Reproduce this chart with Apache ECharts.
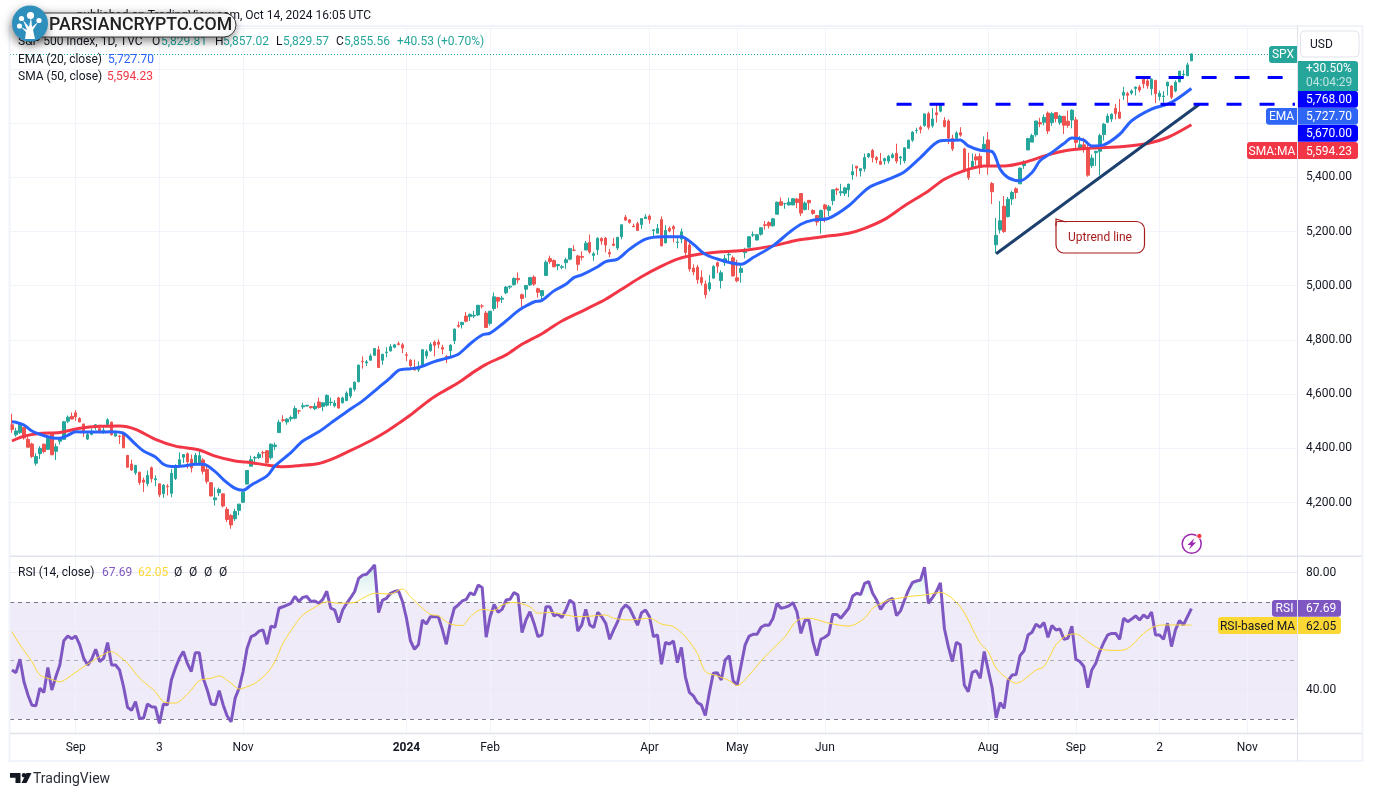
<!DOCTYPE html>
<html>
<head>
<meta charset="utf-8">
<title>SPX 1D</title>
<script src="https://cdn.jsdelivr.net/npm/echarts@6/dist/echarts.min.js"></script>
<style>
html, body { margin: 0; padding: 0; background: #fff; }
#chartMain { width: 1373px; height: 796px; }
</style>
</head>
<body>
<div id="chartMain"></div>
<script>
// one row per month, Aug 10 2023 - Oct 14 2024
var opens = [
	4487,4450,4458,4478,4433,4416,4345,4380,4415,4396,4455,4389,4426,4433,4500,4518,
	4531,4510,4490,4434,4451,4480,4473,4462,4488,4497,4445,4445,4452,4374,4342,4310,4312,4283,4270,4328,
	4284,4269,4233,4260,4234,4289,4339,4367,4380,4360,4342,4345,4357,4322,4273,4210,4236,4232,4175,4152,4140,4171,
	4201,4268,4334,4364,4366,4384,4391,4365,4406,4458,4505,4497,4509,4511,4538,4553,4556,4554,4546,4571,4554,
	4559,4569,4557,4586,4568,4576,4593,4618,4646,4721,4715,4725,4743,4764,4725,4753,4759,4773,4786,4782,
	4745,4725,4697,4690,4703,4741,4760,4792,4792,4772,4739,4760,4797,4853,4856,4888,4886,4888,4892,4925,4899,
	4861,4916,4957,4950,4974,4995,5004,5027,4967,4987,5003,5032,4989,4963,5038,5100,5093,5074,5068,5085,
	5098,5131,5110,5108,5132,5160,5112,5133,5174,5176,5123,5154,5139,5181,5253,5243,5220,5229,5226,5248,
	5257,5204,5194,5244,5158,5212,5218,5160,5172,5171,5150,5065,5068,5031,5006,4988,5028,5085,5019,5085,5114,5103,
	5029,5049,5122,5142,5187,5169,5190,5225,5233,5221,5264,5310,5303,5298,5298,5320,5340,5281,5315,5278,5259,5243,
	5298,5278,5314,5357,5343,5341,5354,5409,5441,5424,5432,5476,5499,5473,5459,5461,5460,5473,5488,
	5471,5461,5507,5537,5572,5584,5591,5635,5590,5638,5644,5610,5608,5543,5544,5565,5505,5428,5434,5476,5478,5505,
	5538,5377,5151,5206,5293,5255,5320,5358,5376,5443,5501,5530,5557,5602,5603,5637,5602,5639,5602,5625,5607,5612,
	5612,5506,5520,5507,5443,5491,5496,5558,5603,5615,5655,5641,5703,5709,5711,5728,5733,5762,5756,5727,
	5758,5698,5698,5737,5737,5719,5752,5778,5775,5829.81
];
var highs = [
	4527,4476,4490,4478,4449,4421,4382,4408,4418,4443,4458,4418,4440,4501,4521,4532,
	4541,4515,4490,4457,4473,4490,4487,4479,4511,4497,4466,4449,4462,4375,4358,4339,4313,4292,4318,4333,
	4300,4269,4268,4268,4324,4341,4385,4378,4385,4377,4383,4394,4364,4339,4276,4256,4255,4232,4184,4157,4177,4195,
	4246,4319,4373,4372,4386,4391,4393,4418,4421,4505,4522,4511,4521,4557,4542,4568,4560,4555,4568,4587,4570,
	4599,4587,4578,4590,4591,4610,4623,4647,4709,4739,4726,4749,4769,4778,4749,4773,4784,4785,4794,4789,
	4755,4729,4727,4721,4764,4765,4791,4798,4802,4782,4744,4783,4842,4868,4866,4903,4898,4907,4929,4932,4907,
	4906,4975,4958,4963,4999,5000,5031,5049,4971,5002,5032,5038,4993,4983,5094,5111,5097,5081,5077,5104,
	5140,5149,5114,5127,5165,5189,5125,5179,5179,5180,5136,5176,5180,5226,5261,5246,5229,5236,5249,5264,
	5263,5209,5228,5256,5223,5219,5224,5178,5211,5176,5168,5079,5077,5057,5019,5039,5076,5089,5057,5114,5123,5111,
	5096,5074,5140,5181,5200,5191,5215,5239,5238,5250,5311,5325,5306,5325,5324,5323,5342,5311,5315,5282,5260,5281,
	5302,5298,5354,5362,5376,5365,5376,5448,5441,5432,5488,5490,5505,5478,5490,5472,5483,5490,5524,
	5479,5510,5539,5570,5583,5591,5635,5642,5655,5667,5669,5622,5614,5557,5570,5585,5509,5491,5488,5487,5489,5551,
	5567,5383,5250,5312,5331,5328,5351,5363,5436,5463,5546,5561,5608,5620,5632,5643,5642,5639,5631,5627,5646,5651,
	5623,5552,5546,5523,5484,5498,5561,5601,5636,5636,5671,5689,5734,5716,5725,5735,5741,5767,5765,5765,
	5758,5720,5718,5753,5740,5758,5792,5795,5823,5857.02
];
var lows = [
	4457,4443,4453,4432,4403,4364,4336,4360,4382,4396,4375,4357,4414,4431,4493,4507,
	4501,4497,4442,4431,4448,4468,4456,4453,4479,4447,4442,4416,4401,4329,4316,4302,4265,4239,4260,4274,
	4260,4220,4217,4226,4219,4283,4339,4346,4325,4311,4342,4339,4304,4269,4223,4189,4224,4182,4128,4103,4132,4153,
	4198,4268,4334,4347,4360,4365,4344,4358,4393,4458,4496,4487,4499,4507,4526,4545,4554,4546,4541,4547,4537,
	4554,4557,4551,4546,4565,4574,4585,4610,4643,4694,4704,4725,4743,4697,4708,4736,4758,4769,4780,4751,
	4722,4699,4688,4682,4699,4730,4756,4739,4769,4747,4714,4740,4785,4845,4842,4865,4870,4881,4888,4916,4845,
	4853,4907,4918,4936,4969,4988,5000,5008,4920,4956,4999,4999,4956,4946,5038,5081,5068,5057,5061,5062,
	5094,5127,5056,5093,5131,5118,5092,5114,5151,5123,5105,5146,5131,5171,5241,5229,5216,5203,5209,5246,
	5229,5184,5194,5146,5157,5197,5160,5138,5157,5107,5052,5039,5007,5001,4953,4979,5028,5047,4990,5073,5088,5035,
	5013,5011,5101,5142,5180,5166,5185,5207,5211,5218,5264,5296,5284,5297,5298,5286,5257,5278,5279,5262,5222,5192,
	5234,5257,5297,5335,5331,5331,5327,5391,5403,5403,5421,5471,5455,5452,5447,5447,5451,5470,5451,
	5446,5452,5507,5531,5562,5562,5587,5576,5583,5602,5640,5584,5523,5497,5540,5550,5419,5390,5431,5444,5412,5494,
	5410,5302,5119,5193,5195,5252,5298,5321,5376,5431,5501,5530,5550,5585,5592,5560,5590,5603,5594,5560,5583,5581,
	5504,5503,5491,5402,5435,5442,5407,5536,5602,5604,5614,5615,5686,5674,5704,5702,5714,5729,5727,5703,
	5674,5683,5675,5702,5689,5714,5751,5765,5775,5829.57
];
var closes = [
	4469,4464,4490,4438,4404,4370,4370,4400,4388,4436,4376,4406,4433,4498,4515,4508,
	4516,4497,4465,4451,4457,4487,4462,4467,4505,4450,4454,4444,4402,4330,4320,4337,4274,4275,4300,4288,
	4288,4229,4264,4258,4308,4336,4358,4377,4350,4328,4374,4373,4315,4278,4224,4217,4248,4187,4137,4117,4167,4194,
	4238,4318,4358,4366,4378,4383,4347,4415,4412,4496,4503,4508,4514,4547,4538,4557,4559,4550,4555,4551,4568,
	4595,4570,4567,4549,4586,4604,4622,4644,4707,4720,4719,4741,4768,4698,4747,4755,4775,4782,4783,4770,
	4743,4705,4689,4697,4764,4757,4783,4780,4784,4766,4739,4781,4840,4850,4865,4869,4894,4891,4928,4925,4846,
	4906,4959,4943,4954,4995,4998,5027,5022,4953,5001,5030,5006,4976,4982,5087,5089,5070,5078,5070,5096,
	5137,5131,5079,5105,5157,5124,5118,5175,5165,5150,5117,5149,5179,5225,5242,5234,5218,5204,5248,5254,
	5244,5206,5211,5147,5204,5202,5210,5161,5199,5123,5062,5051,5022,5011,4967,5011,5071,5072,5048,5100,5116,5036,
	5018,5064,5128,5181,5188,5188,5214,5223,5221,5247,5308,5297,5303,5308,5321,5307,5268,5305,5306,5267,5235,5278,
	5283,5291,5354,5353,5347,5361,5375,5421,5434,5432,5473,5487,5473,5465,5448,5469,5478,5483,5460,
	5475,5509,5537,5567,5573,5577,5634,5585,5615,5631,5667,5588,5545,5505,5564,5556,5427,5399,5459,5464,5436,5522,
	5447,5347,5186,5240,5200,5319,5344,5344,5434,5455,5543,5554,5608,5597,5621,5571,5635,5617,5626,5592,5592,5648,
	5529,5520,5503,5408,5471,5496,5554,5596,5626,5633,5635,5618,5714,5703,5719,5733,5722,5745,5738,5762,
	5709,5710,5700,5751,5696,5751,5792,5780,5815,5855.56
];

// moving averages as [session, value]
var ema20 = [
	[0,4498],[1,4496],[3,4486],[5,4464],[7,4452],[10,4439],[12,4437],[14,4448],[16,4461],[19,4460],[22,4460],[25,4461],[28,4455],
	[31,4415],[33,4390],[36,4368],[38,4341],[40,4333],[43,4335],[46,4341],[48,4341],[51,4314],[53,4285],[56,4252],[58,4245],[60,4264],
	[64,4298],[66,4335],[70,4384],[73,4427],[77,4461],[80,4493],[84,4535],[88,4575],[92,4624],[95,4661],[97,4688],[100,4694],[102,4698],[106,4720],
	[109,4732],[112,4747],[115,4786],[118,4818],[120,4825],[123,4858],[127,4907],[128,4917],[131,4940],[133,4946],[136,4981],[139,5005],
	[141,5030],[143,5040],[147,5070],[149,5089],[152,5098],[155,5135],[159,5172],[163,5181],[168,5181],[171,5153],[174,5116],[178,5094],
	[183,5079],[186,5104],[191,5147],[195,5196],[198,5227],[201,5242],[205,5249],[210,5295],[215,5362],[220,5393],[224,5421],[228,5473],
	[233,5535],[236,5537],[238,5538],[240,5516],[243,5500],[246,5495],[248,5430],[250,5399],[253,5387],[256,5418],[258,5461],[261,5492],
	[264,5525],[266,5545],[269,5537],[271,5516],[274,5520],[278,5559],[281,5609],[286,5652],[290,5670],[292,5685],[296,5727.7]
];
var sma50 = [
	[0,4427],[3,4445],[7,4455],[12,4458],[17,4474],[22,4481],[27,4482],[31,4470],[36,4433],[41,4408],[47,4394],[51,4371],[56,4353],[60,4347],
	[64,4338],[68,4332],[72,4336],[77,4344],[80,4358],[84,4385],[90,4428],[94,4462],[97,4492],[100,4523],[105,4580],[108,4608],[112,4642],
	[116,4683],[119,4710],[124,4745],[128,4784],[133,4823],[138,4870],[144,4913],[149,4950],[153,4987],[158,5033],[163,5072],[167,5098],
	[172,5115],[178,5125],[184,5131],[191,5147],[197,5168],[203,5180],[210,5194],[214,5212],[219,5245],[224,5295],[230,5350],[234,5393],[239,5425],
	[244,5442],[249,5442],[254,5455],[260,5483],[265,5500],[271,5508],[279,5514],[285,5525],[290,5547],[296,5594.23]
];

var rsi14 = [
	46.7,45.8,50.4,42.7,38.2,34.7,34.5,40.5,39.0,47.6,
	39.9,44.4,48.4,56.7,58.3,57.4,58.3,55.3,50.7,48.4,
	50.4,53.8,49.6,50.7,56.1,48.4,48.4,46.7,41.0,34.0,
	32.9,35.9,30.2,30.2,35.1,34.2,34.0,28.5,35.1,34.8,
	43.3,47.3,50.7,53.0,49.0,46.2,52.6,52.6,43.9,39.9,
	35.1,34.8,39.7,34.8,31.0,29.0,37.1,40.5,46.2,54.1,
	58.1,58.7,60.0,60.4,55.5,61.7,61.3,67.8,68.3,68.9,
	69.5,71.8,70.1,71.5,71.8,70.1,70.3,69.5,70.8,73.6,
	67.8,67.2,62.9,67.2,69.5,71.4,73.5,78.0,79.1,79.4,
	80.9,82.6,66.3,70.6,71.2,72.9,73.5,73.8,70.1,64.4,
	56.7,53.8,55.3,63.8,62.4,64.9,64.9,64.9,60.6,55.5,
	62.7,67.8,68.9,70.3,70.8,73.1,72.3,75.7,74.9,57.9,
	64.9,69.1,66.4,67.4,70.6,70.9,73.2,72.3,59.5,63.8,
	66.6,62.7,58.1,58.7,68.3,68.3,65.2,65.8,64.6,67.2,
	70.6,69.5,60.0,62.1,67.4,62.1,61.2,66.4,64.9,62.7,
	57.2,60.4,63.2,67.4,68.9,67.8,64.9,62.0,66.3,67.2,
	64.9,58.1,58.7,48.7,56.1,55.6,56.6,49.2,54.4,44.4,
	39.1,37.9,35.6,34.8,31.2,38.8,45.6,45.8,43.3,50.1,
	51.6,43.0,41.6,48.4,55.3,58.3,58.9,58.9,61.3,62.1,
	62.0,64.4,69.5,67.8,68.1,68.6,69.7,66.6,59.2,63.6,
	63.8,56.4,51.6,57.2,57.9,58.9,65.7,65.7,64.4,66.1,
	67.8,72.0,72.9,72.5,76.3,76.9,72.9,70.6,67.4,69.5,
	70.6,71.2,65.3,66.9,70.6,74.0,76.6,77.1,77.4,81.8,
	69.5,71.4,73.5,76.5,60.9,54.7,49.6,56.2,55.3,41.6,
	39.3,45.9,46.5,43.9,53.0,46.7,40.5,30.4,35.6,33.6,
	43.1,45.0,45.2,51.6,53.3,58.7,59.6,62.4,61.3,62.9,
	57.9,61.9,60.4,60.7,57.2,57.5,61.7,50.4,49.6,47.9,
	40.7,46.7,49.0,53.0,56.1,58.7,59.2,59.2,57.2,64.4,
	63.2,64.1,65.2,63.8,65.5,64.4,66.5,58.7,58.7,57.2,
	62.7,54.7,60.4,63.6,62.1,64.9,67.69
];
var rsiMa = [
	[0,59.8],[2,55.3],[5,49.6],[7,45.0],[10,43.5],[12,42.7],[15,45.0],[17,46.9],[20,49.6],[22,51.3],[25,53.0],[26,52.4],[29,49.0],[32,43.9],
	[36,39.3],[38,35.9],[41,35.4],[43,37.1],[45,39.9],[47,43.1],[50,43.9],[52,44.7],[55,42.2],[57,40.2],[59,41.0],[61,42.2],[64,45.6],[66,49.6],
	[68,55.8],[71,62.1],[73,65.5],[76,68.1],[79,70.0],[82,69.5],[86,69.8],[88,71.2],[91,72.9],[95,72.7],[98,74.4],[100,71.7],[103,67.8],[105,65.7],
	[107,65.2],[110,62.4],[113,61.9],[115,64.9],[118,67.4],[121,67.0],[123,68.9],[126,69.8],[130,68.3],[132,66.1],[135,66.4],[139,65.5],[142,64.9],
	[146,65.2],[149,65.5],[151,64.4],[155,63.8],[160,64.4],[163,62.4],[166,61.5],[169,58.1],[172,52.4],[174,46.2],[177,44.7],[180,43.1],[182,41.4],
	[185,45.0],[189,51.3],[194,58.1],[197,63.6],[200,64.4],[205,62.7],[210,61.7],[214,64.4],[216,67.8],[220,70.6],[221,70.8],[225,71.8],[229,72.3],
	[233,73.2],[238,68.3],[243,55.8],[245,53.0],[247,47.3],[250,43.6],[252,42.2],[257,46.7],[259,47.9],[262,55.3],[265,58.7],[267,59.0],[270,56.4],
	[273,53.9],[277,53.4],[280,54.0],[284,59.2],[287,61.7],[290,62.1],[296,62.05]
];

// time axis: session index and its label, 26 empty sessions after the last bar
var sessionCount = 323;
var tickSessions = [16, 37, 58, 99, 120, 160, 182, 204, 245, 267, 288, 310];
var tickLabels = ["Sep", "3", "Nov", "2024", "Feb", "Apr", "May", "Jun", "Aug", "Sep", "2", "Nov"];

var priceTicks = [4200, 4400, 4600, 4800, 5000, 5200, 5400];
var rsiTicks = [80, 60, 40];
var rsiBands = [70, 50, 30];
var resistanceUpper = { level: 5768, from: 282, to: 319 };
var resistanceLower = { level: 5670, from: 222, to: 322 };
var trendLine = [[247, 5118], [298, 5670]];
var lastClose = 5855.56;

var FONT = "Roboto, sans-serif";
var TEXT = "#131722";
var UP = "#26a69a";
var DOWN = "#ef5350";
var EMA_COLOR = "#2962ff";
var SMA_COLOR = "#f23645";
var RSI_COLOR = "#7e57c2";
var MA_COLOR = "#fdd835";
var GRID_COLOR = "#f0f3fa";
var BORDER = "#e0e3eb";

var categories = [];
for(var i = 0; i < sessionCount; i++) {
	var t = tickSessions.indexOf(i);
	categories.push(t > -1 ? tickLabels[t] : "s" + i);
}

var candles = [];
for(var i = 0; i < closes.length; i++) {
	candles.push([opens[i], closes[i], lows[i], highs[i]]);
}

var vertLines = [];
for(var i = 0; i < tickSessions.length; i++) {
	vertLines.push({ xAxis: tickSessions[i] });
}

function plainLine(name, xi, yi, data, color, width, dash, smooth, z) {
	return {
		name: name,
		type: "line",
		xAxisIndex: xi,
		yAxisIndex: yi,
		data: data,
		symbol: "none",
		smooth: smooth,
		z: z,
		silent: true,
		lineStyle: { color: color, width: width, type: dash, cap: "butt" }
	};
}

// helpers for the labels around the panes
function box(x, y, w, h, fill, r) {
	return { type: "rect", z: 50, silent: true, shape: { x: x, y: y, width: w, height: h, r: r || 0 }, style: { fill: fill } };
}
function label(x, y, str, color, font, align) {
	return {
		type: "text", z: 51, silent: true, x: x, y: y,
		style: { text: str, fill: color, font: font || "12px " + FONT, textAlign: align || "left", textVerticalAlign: "middle" }
	};
}
function sideTag(y, h, name, nameLeft, value, fill, fg, boxRight) {
	var out = [];
	if(name) {
		out.push(box(nameLeft, y, 1297 - nameLeft, h, fill, [3, 0, 0, 3]));
		out.push(label((nameLeft + 1297) / 2, y + h / 2 + 1, name, fg, null, "center"));
	}
	out.push(box(1298, y, boxRight - 1298, h, fill, [0, 3, 3, 0]));
	out.push(label(1306, y + h / 2 + 1, value, fg));
	return out;
}

var elements = [];

// outer frame and pane separators
elements.push({ type: "rect", z: 40, silent: true, shape: { x: 9.5, y: 26, width: 1353, height: 735 }, style: { fill: "none", stroke: GRID_COLOR, lineWidth: 2 } });
elements.push({ type: "line", z: 40, silent: true, shape: { x1: 10, y1: 556.2, x2: 1362, y2: 556.2 }, style: { stroke: BORDER, lineWidth: 1.5 } });
elements.push({ type: "line", z: 40, silent: true, shape: { x1: 10, y1: 733.5, x2: 1362, y2: 733.5 }, style: { stroke: BORDER, lineWidth: 1.5 } });
elements.push({ type: "line", z: 40, silent: true, shape: { x1: 1297.5, y1: 26, x2: 1297.5, y2: 761 }, style: { stroke: BORDER, lineWidth: 1 } });

// legend rows
elements.push(label(371, 16, "published on TradingView.com, Oct 14, 2024 16:05 UTC", TEXT, null, "right"));
elements.push(label(18, 42, "S&P 500 Index, 1D, TVC", TEXT));
elements.push(label(152, 42, "O", TEXT));
elements.push(label(161, 42, "5,829.81", UP));
elements.push(label(215, 42, "H", TEXT));
elements.push(label(223, 42, "5,857.02", UP));
elements.push(label(276, 42, "L", TEXT));
elements.push(label(283, 42, "5,829.57", UP));
elements.push(label(336, 42, "C", TEXT));
elements.push(label(344, 42, "5,855.56", UP));
elements.push(label(397, 42, "+40.53 (+0.70%)", UP));
elements.push(label(18, 60, "EMA (20, close)", TEXT));
elements.push(label(108, 60, "5,727.70", EMA_COLOR));
elements.push(label(18, 77, "SMA (50, close)", TEXT));
elements.push(label(107, 77, "5,594.23", SMA_COLOR));
elements.push(label(18, 573, "RSI (14, close)", TEXT));
elements.push(label(102, 573, "67.69", RSI_COLOR));
elements.push(label(138, 573, "62.05", MA_COLOR));
elements.push(label(174, 573, "\u00D8", TEXT));
elements.push(label(189, 573, "\u00D8", TEXT));
elements.push(label(204, 573, "\u00D8", TEXT));
elements.push(label(219, 573, "\u00D8", TEXT));

// price scale tags
elements.push({ type: "rect", z: 50, silent: true, shape: { x: 1300.5, y: 31, width: 58.5, height: 26, r: 4 }, style: { fill: "#fff", stroke: BORDER, lineWidth: 1 } });
elements.push(label(1310, 45, "USD", TEXT));
elements.push(box(1269, 46, 28, 17, UP, [3, 0, 0, 3]));
elements.push(label(1283, 55, "SPX", "#fff", null, "center"));
elements.push(box(1298, 61, 60, 30, UP, [0, 3, 0, 0]));
elements.push(label(1306, 68.5, "+30.50%", "#fff"));
elements.push(label(1306, 82.5, "04:04:29", "rgba(255,255,255,0.7)"));
elements = elements.concat(sideTag(91, 16.7, null, 0, "5,768.00", "#0000ff", "#fff", 1358));
elements = elements.concat(sideTag(108, 16.7, "EMA", 1266, "5,727.70", "#2f66f6", "#fff", 1358));
elements = elements.concat(sideTag(125, 16.7, null, 0, "5,670.00", "#0000ff", "#fff", 1358));
elements = elements.concat(sideTag(142, 17, "SMA:MA", 1247, "5,594.23", SMA_COLOR, "#fff", 1358));
elements = elements.concat(sideTag(600, 16.7, "RSI", 1272, "67.69", RSI_COLOR, "#fff", 1341));
elements = elements.concat(sideTag(617, 17, "RSI-based MA", 1218, "62.05", MA_COLOR, TEXT, 1341));

// callout
elements.push({ type: "rect", z: 30, silent: true, shape: { x: 1056, y: 221.5, width: 88.5, height: 31.5, r: [2, 8, 8, 8] }, style: { fill: "#fff", stroke: "#a61c1c", lineWidth: 1.2 } });
elements.push({ type: "polyline", z: 31, silent: true, shape: { points: [[1056, 226], [1056, 219], [1066, 222]] }, style: { fill: "none", stroke: "#a61c1c", lineWidth: 1.2 } });
elements.push(label(1100, 238, "Uptrend line", "#a61c1c", null, "center"));

// flash icon above the separator
elements.push({ type: "circle", z: 30, silent: true, shape: { cx: 1191.7, cy: 543.7, r: 9.5 }, style: { fill: "#fff", stroke: "#9c27b0", lineWidth: 1.5 } });
elements.push({ type: "polygon", z: 31, silent: true, shape: { points: [[1194.5, 538], [1187.5, 545], [1191, 545], [1189, 549.5], [1196, 542.5], [1192.5, 542.5]] }, style: { fill: "#9c27b0" } });
elements.push({ type: "circle", z: 32, silent: true, shape: { cx: 1199.3, cy: 536, r: 2.6 }, style: { fill: "#f23645", stroke: "#fff", lineWidth: 0.8 } });

// site badge over the top left corner
elements.push({ type: "rect", z: 60, silent: true, shape: { x: 30, y: 13, width: 206, height: 24, r: 12 }, style: { fill: "#fff", stroke: "#3a3a3a", lineWidth: 1, shadowBlur: 10, shadowColor: "rgba(0,0,0,0.5)", shadowOffsetX: -2, shadowOffsetY: 3 } });
elements.push({ type: "circle", z: 61, silent: true, shape: { cx: 30, cy: 23.5, r: 18 }, style: { fill: "#2e8fbd", shadowBlur: 10, shadowColor: "rgba(0,0,0,0.5)", shadowOffsetX: -1, shadowOffsetY: 4 } });
elements.push({ type: "polygon", z: 62, silent: true, shape: { points: [[25, 39], [35, 39], [33, 30], [38, 22], [32, 27], [31, 17], [29, 27], [23, 20], [27, 30], [21, 27], [26, 32]] }, style: { fill: "#fff" } });
elements.push({ type: "circle", z: 62, silent: true, shape: { cx: 30.5, cy: 15.5, r: 3.6 }, style: { fill: "#fff" } });
elements.push({ type: "circle", z: 62, silent: true, shape: { cx: 21.5, cy: 18.5, r: 2.6 }, style: { fill: "#fff" } });
elements.push({ type: "circle", z: 62, silent: true, shape: { cx: 19.5, cy: 26, r: 2.6 }, style: { fill: "#fff" } });
elements.push({ type: "circle", z: 62, silent: true, shape: { cx: 39, cy: 20.5, r: 2.6 }, style: { fill: "#fff" } });
elements.push(label(49, 25.5, "PARSIANCRYPTO.COM", "#222", "500 17.7px " + FONT));
elements[elements.length - 1].z = 63;

// footer mark
elements.push({ type: "polygon", z: 30, silent: true, shape: { points: [[10, 773], [20.5, 773], [20.5, 783], [15.5, 783], [15.5, 777.8], [10, 777.8]] }, style: { fill: TEXT } });
elements.push({ type: "polygon", z: 30, silent: true, shape: { points: [[26.5, 773], [31.5, 773], [26.5, 783], [21.5, 783]] }, style: { fill: TEXT } });
elements.push({ type: "circle", z: 30, silent: true, shape: { cx: 24, cy: 775.3, r: 2.2 }, style: { fill: TEXT } });
elements.push(label(33, 779, "TradingView", "#2a2e39", "14px " + FONT));

var mainSeries = [];
// grid layer goes first so the marks stay on top of it
mainSeries.push({
	type: "line", data: [], xAxisIndex: 0, yAxisIndex: 0, z: 1, silent: true,
	markLine: { z: 1, silent: true, symbol: "none", label: { show: false }, animation: false, lineStyle: { color: GRID_COLOR, width: 1, type: "solid" }, data: vertLines }
});
mainSeries.push({
	type: "candlestick", name: "SPX", xAxisIndex: 0, yAxisIndex: 0, data: candles, barWidth: 3, silent: true,
	itemStyle: { color: UP, color0: DOWN, borderColor: UP, borderColor0: DOWN, borderWidth: 1 },
	markLine: {
		silent: true, symbol: "none", label: { show: false }, animation: false,
		data: [{ yAxis: lastClose, lineStyle: { color: "#1fa899", width: 1, type: [1, 2], opacity: 1 } }]
	}
});
mainSeries.push(plainLine("SMA", 0, 0, sma50, SMA_COLOR, 3, "solid", 0.3, 5));
mainSeries.push(plainLine("EMA", 0, 0, ema20, EMA_COLOR, 3, "solid", 0.3, 6));
mainSeries.push(plainLine("trend", 0, 0, trendLine, "#1c3f6e", 3, "solid", false, 7));
mainSeries.push(plainLine("r1", 0, 0, [[resistanceUpper.from, resistanceUpper.level], [resistanceUpper.to, resistanceUpper.level]], "#0000ff", 3, [15, 18], false, 8));
mainSeries.push(plainLine("r2", 0, 0, [[resistanceLower.from, resistanceLower.level], [resistanceLower.to, resistanceLower.level]], "#0000ff", 3, [15, 18], false, 8));

var rsiLines = [];
for(var i = 0; i < tickSessions.length; i++) {
	rsiLines.push({ xAxis: tickSessions[i], lineStyle: { color: GRID_COLOR, width: 1, type: "solid" } });
}
for(var i = 0; i < rsiTicks.length; i++) {
	rsiLines.push({ yAxis: rsiTicks[i], lineStyle: { color: "#ece8f5", width: 1, type: "solid" } });
}
for(var i = 0; i < rsiBands.length; i++) {
	rsiLines.push({ yAxis: rsiBands[i], lineStyle: { color: i == 1 ? "rgba(120,123,134,0.55)" : "#787b86", width: 1, type: [4, 4] } });
}

var rsiSeries = [];
rsiSeries.push({
	type: "line", data: [], xAxisIndex: 1, yAxisIndex: 1, z: 1, silent: true,
	markArea: { silent: true, animation: false, itemStyle: { color: "rgba(126,87,194,0.12)" }, data: [[{ yAxis: rsiBands[2] }, { yAxis: rsiBands[0] }]] },
	markLine: { z: 2, silent: true, symbol: "none", label: { show: false }, animation: false, data: rsiLines }
});
var rsiOver = [];
for(var i = 0; i < rsi14.length; i++) {
	rsiOver.push(rsi14[i] > rsiBands[0] ? rsi14[i] : rsiBands[0]);
}
rsiSeries.push({
	type: "line", name: "over", xAxisIndex: 1, yAxisIndex: 1, data: rsiOver, symbol: "none", silent: true, z: 3,
	lineStyle: { width: 0 },
	areaStyle: {
		origin: rsiBands[0],
		color: new echarts.graphic.LinearGradient(0, 0, 0, 1, [{ offset: 0, color: "rgba(38,166,154,0.3)" }, { offset: 1, color: "rgba(38,166,154,0)" }])
	}
});
rsiSeries.push(plainLine("RSI", 1, 1, rsi14, RSI_COLOR, 3, "solid", false, 4));
rsiSeries.push(plainLine("RSI MA", 1, 1, rsiMa, MA_COLOR, 1, "solid", 0.3, 5));

var myChart = echarts.init(document.getElementById("chartMain"), null, { renderer: "canvas" });
var option = {
	animation: false,
	backgroundColor: "#fff",
	textStyle: { fontFamily: FONT },
	grid: [
		{ left: 10, right: 76, top: 28.3, height: 528.4 },
		{ left: 10, right: 76, top: 556.7, height: 176.3 }
	],
	xAxis: [
		{
			type: "category", gridIndex: 0, data: categories, boundaryGap: true,
			axisLine: { show: false }, axisTick: { show: false }, axisLabel: { show: false }, splitLine: { show: false }
		},
		{
			type: "category", gridIndex: 1, data: categories, boundaryGap: true,
			axisLine: { show: false }, axisTick: { show: false }, splitLine: { show: false },
			axisLabel: {
				color: TEXT, fontSize: 12, margin: 9, hideOverlap: false,
				interval: function(index) { return tickSessions.indexOf(index) > -1; },
				formatter: function(value) { return value == "2024" ? "{y|2024}" : value; },
				rich: { y: { fontWeight: "bold", fontSize: 12, color: TEXT } }
			}
		}
	],
	yAxis: [
		{
			type: "value", gridIndex: 0, position: "right", min: 4000, max: 5950, interval: 200,
			axisLine: { show: false }, axisTick: { show: false },
			splitLine: { show: true, lineStyle: { color: GRID_COLOR, width: 1 } },
			axisLabel: {
				color: TEXT, fontSize: 12, margin: 9,
				formatter: function(value) {
					return priceTicks.indexOf(value) > -1 ? echarts.format.addCommas(value.toFixed(2)) : "";
				}
			}
		},
		{
			type: "value", gridIndex: 1, position: "right", min: 25.2, max: 85.4,
			axisLine: { show: false }, axisTick: { show: false }, splitLine: { show: false },
			axisLabel: {
				color: TEXT, fontSize: 12, margin: 9, padding: [2, 0, 0, 0],
				customValues: rsiTicks,
				formatter: function(value) { return value.toFixed(2); }
			}
		}
	],
	series: mainSeries.concat(rsiSeries),
	graphic: { elements: elements }
};
myChart.setOption(option);
</script>
</body>
</html>
